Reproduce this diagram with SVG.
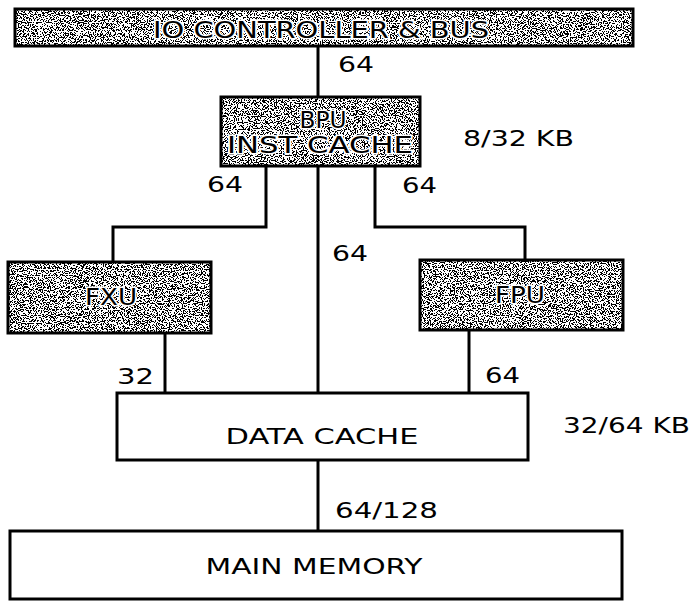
<svg xmlns="http://www.w3.org/2000/svg" width="695" height="601" viewBox="0 0 695 601">
<style>
.box{fill:#fff;stroke:#000;stroke-width:3}
.shade{stroke:#000;stroke-width:3;fill:none}
.wire{fill:none;stroke:#000;stroke-width:3}
.lbl{font-family:"DejaVu Sans","Liberation Sans",sans-serif;font-size:22px;fill:#000}
.btxt{font-family:"DejaVu Sans","Liberation Sans",sans-serif;font-size:21px;fill:#000;text-anchor:middle}
.stxt{font-family:"DejaVu Sans","Liberation Sans",sans-serif;font-size:23px;fill:#000;text-anchor:middle;stroke:#fff;stroke-width:3;paint-order:stroke}
</style>
<defs>
<filter id="stip" x="0" y="0" width="100%" height="100%" color-interpolation-filters="sRGB">
<feTurbulence type="fractalNoise" baseFrequency="0.85" numOctaves="2" seed="7" result="n"/>
<feColorMatrix in="n" type="matrix" values="1 0 0 0 0.03  1 0 0 0 0.03  1 0 0 0 0.03  0 0 0 0 1"/>
<feComponentTransfer>
<feFuncR type="discrete" tableValues="0 1"/>
<feFuncG type="discrete" tableValues="0 1"/>
<feFuncB type="discrete" tableValues="0 1"/>
</feComponentTransfer>
<feComposite operator="in" in2="SourceGraphic"/>
</filter>
</defs>
<rect width="695" height="601" fill="#fff"/>
<g id="connectors">
<path class="wire" d="M318 46V97"/>
<path class="wire" d="M266 166V227H113V262"/>
<path class="wire" d="M318 166V393"/>
<path class="wire" d="M375 166V227H525V260"/>
<path class="wire" d="M165 333V393"/>
<path class="wire" d="M469 330V393"/>
<path class="wire" d="M318 460V531"/>
<text class="lbl" x="338" y="72" textLength="36" lengthAdjust="spacingAndGlyphs">64</text>
<text class="lbl" x="207" y="192" textLength="36" lengthAdjust="spacingAndGlyphs">64</text>
<text class="lbl" x="402" y="193" textLength="35" lengthAdjust="spacingAndGlyphs">64</text>
<text class="lbl" x="332" y="261" textLength="36" lengthAdjust="spacingAndGlyphs">64</text>
<text class="lbl" x="117" y="384" textLength="37" lengthAdjust="spacingAndGlyphs">32</text>
<text class="lbl" x="485" y="383" textLength="35" lengthAdjust="spacingAndGlyphs">64</text>
<text class="lbl" x="335" y="518" textLength="103" lengthAdjust="spacingAndGlyphs">64/128</text>
</g>
<g id="io-bus">
<rect x="15" y="9" width="618" height="37" fill="#fff" filter="url(#stip)"/>
<rect class="shade" x="15" y="9" width="618" height="37"/>
<text class="stxt" x="321" y="38" textLength="336" lengthAdjust="spacingAndGlyphs">IO CONTROLLER &amp; BUS</text>
</g>
<g id="bpu">
<rect x="221" y="97" width="199" height="69" fill="#fff" filter="url(#stip)"/>
<rect class="shade" x="221" y="97" width="199" height="69"/>
<text class="stxt" x="323" y="128" textLength="47" lengthAdjust="spacingAndGlyphs">BPU</text>
<text class="stxt" x="320" y="153" textLength="186" lengthAdjust="spacingAndGlyphs">INST CACHE</text>
<text class="lbl" x="463" y="146" textLength="111" lengthAdjust="spacingAndGlyphs">8/32 KB</text>
</g>
<g id="fxu">
<rect x="8" y="262" width="203" height="71" fill="#fff" filter="url(#stip)"/>
<rect class="shade" x="8" y="262" width="203" height="71"/>
<text class="stxt" x="111" y="305" textLength="52" lengthAdjust="spacingAndGlyphs">FXU</text>
</g>
<g id="fpu">
<rect x="420" y="260" width="203" height="70" fill="#fff" filter="url(#stip)"/>
<rect class="shade" x="420" y="260" width="203" height="70"/>
<text class="stxt" x="520" y="303" textLength="50" lengthAdjust="spacingAndGlyphs">FPU</text>
</g>
<g id="data-cache">
<rect class="box" x="117" y="393" width="411" height="67"/>
<text class="btxt" x="322" y="444" textLength="193" lengthAdjust="spacingAndGlyphs">DATA CACHE</text>
<text class="lbl" x="563" y="433" textLength="127" lengthAdjust="spacingAndGlyphs">32/64 KB</text>
</g>
<g id="main-memory">
<rect class="box" x="10" y="531" width="612" height="68"/>
<text class="btxt" x="314" y="574" textLength="217" lengthAdjust="spacingAndGlyphs">MAIN MEMORY</text>
</g>
</svg>
